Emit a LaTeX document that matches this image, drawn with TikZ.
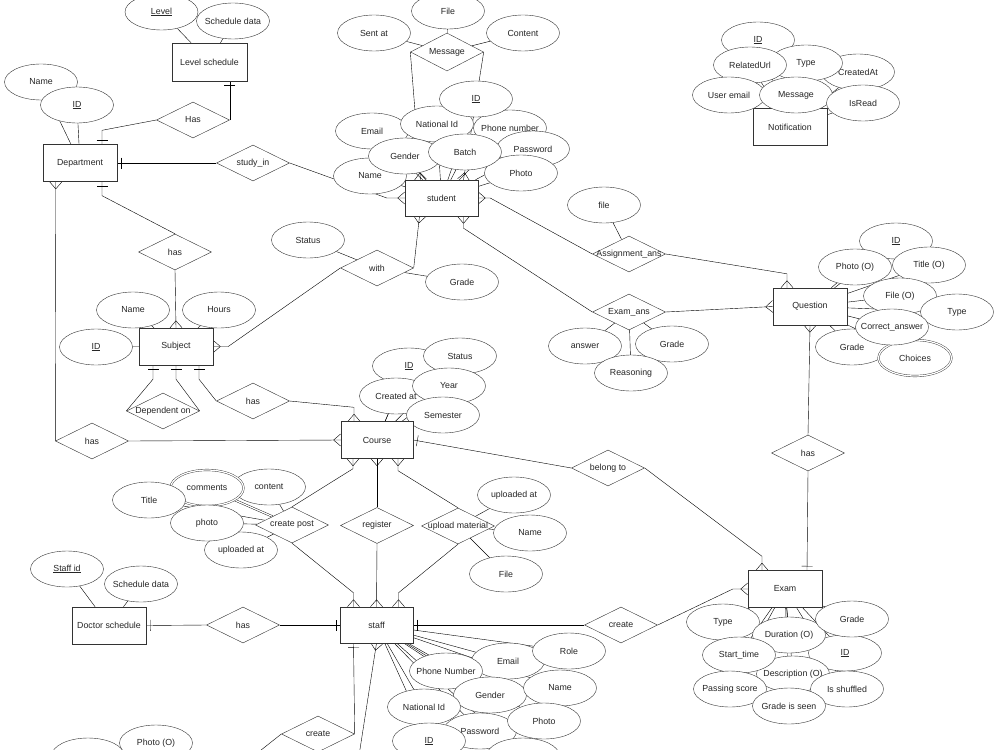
\documentclass[tikz,border=0pt]{standalone}
\usepackage{fontspec}
\setmainfont{Liberation Sans}
\usetikzlibrary{shapes.geometric,backgrounds,decorations.markings,calc}
\newcommand{\dtxt}[1]{\makebox[0pt]{#1}}
\tikzset{
  ent/.style={draw=black!80, fill=white, minimum width=74pt, minimum height=37pt, inner sep=0pt},
  att/.style={ellipse, draw=black!80, fill=white, minimum width=73pt, minimum height=36pt, inner sep=0pt},
  rel/.style={diamond, draw=black!80, fill=white, minimum width=73pt, minimum height=36pt, inner sep=0pt},
  multi/.style={att, double=white, double distance=1.3pt},
  many/.style={postaction={decorate,decoration={markings,mark=at position 0.999 with {\draw (-7pt,0pt)--(0pt,6pt) (-7pt,0pt)--(0pt,-6pt);}}}},
  one/.style={postaction={decorate,decoration={markings,mark=at position 0.999 with {\draw (-4pt,-5.5pt)--(-4pt,5.5pt);}}}},
}
\begin{document}
\begin{tikzpicture}[x=1pt,y=-1pt,font=\fontsize{8.8}{10}\selectfont,text=black!85]
\useasboundingbox (0,0) rectangle (1000,749);

% ---------- Level schedule / Department ----------
\node[att] (lvlL) at (161.5,12) {\dtxt{\underline{Level}}};
\node[att] (lvlS) at (233,21) {\dtxt{Schedule data}};
\node[ent, minimum width=75pt, minimum height=38pt] (lvl) at (209.5,62) {Level schedule};
\node[rel] (has1) at (193,120) {\dtxt{Has}};
\node[att] (dN) at (41,82) {\dtxt{Name}};
\node[att] (dI) at (77,105) {\dtxt{\underline{ID}}};
\node[ent] (dept) at (80,163) {Department};
\node[rel] (study) at (253,163) {\dtxt{study\_in}};

% ---------- Message ----------
\node[att] (mF) at (448,11) {\dtxt{File}};
\node[att] (mS) at (374,33) {\dtxt{Sent at}};
\node[att] (mC) at (523,33) {\dtxt{Content}};
\node[rel, minimum height=38pt] (msg) at (447,52) {\dtxt{Message}};

% ---------- Student ----------
\node[att] (sE) at (372,131) {\dtxt{Email}};
\node[att] (sN) at (370,176) {\dtxt{Name}};
\node[att] (sP) at (510,128) {\dtxt{Phone number}};
\node[att] (sNI) at (437,124) {\dtxt{National Id}};
\node[att] (sI) at (476,99) {\dtxt{\underline{ID}}};
\node[att] (sPw) at (533,149) {\dtxt{Password}};
\node[att] (sG) at (405,156) {\dtxt{Gender}};
\node[att] (sPh) at (521,173) {\dtxt{Photo}};
\node[att] (sB) at (465,152) {\dtxt{Batch}};
\node[ent, minimum width=73pt, minimum height=36pt] (student) at (441.5,198) {student};

% ---------- Notification ----------
\node[ent] (notif) at (790,127) {Notification};
\node[att] (nI) at (758,40) {\dtxt{\underline{ID}}};
\node[att] (nC) at (858,72) {\dtxt{CreatedAt}};
\node[att] (nT) at (806,63) {\dtxt{Type}};
\node[att] (nR) at (750,65) {\dtxt{RelatedUrl}};
\node[att] (nU) at (729,95) {\dtxt{User email}};
\node[att] (nM) at (796,95) {\dtxt{Message}};
\node[att] (nIR) at (863,103) {\dtxt{IsRead}};

% ---------- Subject ----------
\node[rel] (has2) at (175,252) {\dtxt{has}};
\node[att] (subN) at (133,310) {\dtxt{Name}};
\node[att] (subH) at (219,310) {\dtxt{Hours}};
\node[att] (subI) at (96,347) {\dtxt{\underline{ID}}};
\node[ent] (subject) at (176,346.5) {Subject};
\node[rel] (dep) at (163,411) {\dtxt{Dependent on}};
\node[rel] (has3) at (253,401) {\dtxt{has}};
\node[rel] (has4) at (92,441) {\dtxt{has}};
\node[att] (wS) at (308,240) {\dtxt{Status}};
\node[rel] (with) at (377,268) {\dtxt{with}};
\node[att] (wG) at (462,282) {\dtxt{Grade}};

% ---------- Course ----------
\node[att] (cI) at (409,366) {\dtxt{\underline{ID}}};
\node[att] (cC) at (396,396) {\dtxt{Created at}};
\node[att] (cS) at (460,356) {\dtxt{Status}};
\node[att] (cY) at (449,386) {\dtxt{Year}};
\node[att] (cSe) at (443,415) {\dtxt{Semester}};
\node[ent, minimum width=72pt] (course) at (377,440) {Course};

% ---------- Assignment / Exam answers ----------
\node[att] (aF) at (604,205) {\dtxt{file}};
\node[rel] (asg) at (629,254) {\dtxt{Assignment\_ans}};
\node[rel] (exa) at (629,312) {\dtxt{Exam\_ans}};
\node[att] (eaA) at (585,346) {\dtxt{answer}};
\node[att] (eaG) at (672,344) {\dtxt{Grade}};
\node[att] (eaR) at (631,373) {\dtxt{Reasoning}};

% ---------- Question ----------
\node[ent] (question) at (810,306.5) {Question};
\node[att] (qI) at (896,241) {\dtxt{\underline{ID}}};
\node[att] (qT) at (929,265) {\dtxt{Title (O)}};
\node[att] (qP) at (855,267) {\dtxt{Photo (O)}};
\node[att] (qF) at (900,296) {\dtxt{File (O)}};
\node[att] (qTy) at (957,312) {\dtxt{Type}};
\node[att] (qG) at (852,347) {\dtxt{Grade}};
\node[multi] (qCh) at (915,358) {\dtxt{Choices}};
\node[att] (qCa) at (892,327) {\dtxt{Correct\_answer}};
\node[rel] (has6) at (808,453) {\dtxt{has}};
\node[rel] (belong) at (608,468) {\dtxt{belong to}};

% ---------- Exam ----------
\node[ent] (exam) at (785,589) {Exam};
\node[att] (eT) at (723,622) {\dtxt{Type}};
\node[att] (eI) at (845,653) {\dtxt{\underline{ID}}};
\node[att] (eD) at (789,635) {\dtxt{Duration (O)}};
\node[att] (eGr) at (852,619) {\dtxt{Grade}};
\node[att] (eDe) at (793,674) {\dtxt{Description (O)}};
\node[att] (eSt) at (739,655) {\dtxt{Start\_time}};
\node[att] (ePs) at (730,689) {\dtxt{Passing score}};
\node[att] (eSh) at (847,689) {\dtxt{Is shuffled}};
\node[att] (eGs) at (789,706) {\dtxt{Grade is seen}};

% ---------- create post ----------
\node[att] (pCo) at (269,487) {\dtxt{content}};
\node[multi] (pCm) at (207,488) {\dtxt{comments}};
\node[att] (pT) at (149,500) {\dtxt{Title}};
\node[att] (pU) at (241,550) {\dtxt{uploaded at}};
\node[att] (pPh) at (207,523) {\dtxt{photo}};
\node[rel] (cpost) at (292,525) {\dtxt{create post}};

% ---------- register / upload material ----------
\node[rel] (reg) at (377,525.5) {\dtxt{register}};
\node[rel] (upl) at (458,526) {\dtxt{upload material}};
\node[att] (uU) at (514,495) {\dtxt{uploaded at}};
\node[att] (uN) at (530,533) {\dtxt{Name}};
\node[att] (uF) at (506,574) {\dtxt{File}};

% ---------- Doctor schedule / staff ----------
\node[att] (dsI) at (67,569) {\dtxt{\underline{Staff id}}};
\node[att] (dsS) at (141,584) {\dtxt{Schedule data}};
\node[ent] (doc) at (109,625.5) {Doctor schedule};
\node[rel] (has5) at (243,625) {\dtxt{has}};
\node[ent, minimum width=73pt, minimum height=36pt] (staff) at (376.5,625) {staff};
\node[rel] (create) at (621,625) {\dtxt{create}};

\node[att] (stE) at (508,661) {\dtxt{Email}};
\node[att] (stR) at (569,651) {\dtxt{Role}};
\node[att] (stPN) at (446,671) {\dtxt{Phone Number}};
\node[att] (stG) at (490,695) {\dtxt{Gender}};
\node[att] (stN) at (560,688) {\dtxt{Name}};
\node[att] (stNI) at (424,707) {\dtxt{National Id}};
\node[att] (stPw) at (480,731) {\dtxt{Password}};
\node[att] (stPh) at (544,721) {\dtxt{Photo}};
\node[att] (stI) at (429,741) {\dtxt{\underline{ID}}};
\node[att] (stX) at (523,756) {};

% ---------- bottom ----------
\node[rel] (create2) at (318,734) {\dtxt{create}};
\node[att] (bX) at (88,756) {};
\node[att] (bPh) at (156,743) {\dtxt{Photo (O)}};
\coordinate (offA) at (246,762);
\coordinate (offB) at (358,762);

% ---------- connectors ----------
\begin{scope}[on background layer, line width=0.6pt, black!80]
% attributes
\foreach \a in {lvlL,lvlS} \draw (\a) -- (lvl);
\foreach \a in {dN,dI} \draw (\a) -- (dept);
\foreach \a in {mF,mS,mC} \draw (\a) -- (msg);
\foreach \a in {sE,sN,sP,sNI,sI,sPw,sG,sPh,sB} \draw (\a) -- (student);
\foreach \a in {nI,nC,nT,nR,nU,nM,nIR} \draw (\a) -- (notif);
\foreach \a in {subN,subH,subI} \draw (\a) -- (subject);
\foreach \a in {wS,wG} \draw (\a) -- (with);
\foreach \a in {cI,cC,cS,cY,cSe} \draw (\a) -- (course);
\draw (aF) -- (asg);
\foreach \a in {eaA,eaG,eaR} \draw (\a) -- (exa);
\foreach \a in {qI,qT,qP,qF,qTy,qG,qCh,qCa} \draw (\a) -- (question);
\foreach \a in {eT,eI,eD,eGr,eDe,eSt,ePs,eSh,eGs} \draw (\a) -- (exam);
\foreach \a in {pCo,pT,pU,pPh} \draw (\a) -- (cpost);
\draw[double=white, double distance=1.3pt] (pCm) -- (cpost);
\foreach \a in {uU,uN,uF} \draw (\a) -- (upl);
\foreach \a in {dsI,dsS} \draw (\a) -- (doc);
\foreach \a in {stE,stR,stPN,stG,stN,stNI,stPw,stPh,stI,stX} \draw (\a) -- (staff);
% relationships
\draw[one] (has1.east) -- (has1.east |- lvl.south);
\draw[one] (has1.west) -- ([xshift=22pt,yshift=14pt]dept.north) -- ([xshift=22pt]dept.north);
\draw[one] (study.west) -- (dept.east);
\draw[many] (study.east) -- ([xshift=-18pt]student.west) -- (student.west);
\draw[many] (has4.west) -- ([xshift=13pt]dept.south west);
\draw[many] (has4.east) -- (course.west);
\draw[one] (has2.north) -- ([xshift=22pt,yshift=-14pt]dept.south) -- ([xshift=22pt]dept.south);
\draw[many] (has2.south) -- (subject.north);
\draw[many] (with.west) -- ([xshift=15pt]subject.east) -- (subject.east);
\draw[many] (with.east) -- ([xshift=-22pt]student.south);
\draw[one] (dep.west) -- ([xshift=-23pt,yshift=-14pt]subject.south) -- ([xshift=-23pt]subject.south);
\draw[one] (dep.east) -- ([yshift=-14pt]subject.south) -- (subject.south);
\draw[one] (has3.west) -- ([xshift=23pt,yshift=-14pt]subject.south) -- ([xshift=23pt]subject.south);
\draw[many] (has3.east) -- ([xshift=-23pt,yshift=14pt]course.north) -- ([xshift=-23pt]course.north);
\draw[one] (belong.west) -- (course.east);
\draw[many] (belong.east) -- ([xshift=-23pt,yshift=14pt]exam.north) -- ([xshift=-23pt]exam.north);
\draw[many] (cpost.north) -- ([xshift=-24pt,yshift=-10pt]course.south) -- ([xshift=-24pt]course.south);
\draw[many] (cpost.south) -- ([xshift=-23pt,yshift=14pt]staff.north) -- ([xshift=-23pt]staff.north);
\draw[many] (reg.north) -- (course.south);
\draw[many] (reg.south) -- (staff.north);
\draw[many] (upl.north) -- ([xshift=21pt,yshift=-12pt]course.south) -- ([xshift=21pt]course.south);
\draw[many] (upl.south) -- ([xshift=22pt,yshift=14pt]staff.north) -- ([xshift=22pt]staff.north);
\draw[one] (has5.west) -- (doc.east);
\draw[one] (has5.east) -- (staff.west);
\draw[one] (create.west) -- (staff.east);
\draw[many] (create.east) -- ([xshift=-15pt]exam.west) -- (exam.west);
\draw[many] (has6.north) -- (question.south);
\draw[one] (has6.south) -- ([xshift=22pt]exam.north);
\draw[many] (asg.west) -- ([xshift=12pt]student.east) -- (student.east);
\draw[many] (asg.east) -- ([xshift=-23pt,yshift=14pt]question.north) -- ([xshift=-23pt]question.north);
\draw[many] (exa.west) -- ([xshift=22pt,yshift=-12pt]student.south) -- ([xshift=22pt]student.south);
\draw[many] (exa.east) -- (question.west);
\draw[many] (msg.west) -- ([xshift=-21pt]student.north);
\draw[many] (msg.east) -- ([xshift=22pt]student.north);
\draw[one] (create2.east) -- ([xshift=-23pt]staff.south);
\draw[many] (offB) -- (staff.south);
\draw (create2.west) -- (offA);
\end{scope}
\end{tikzpicture}
\end{document}
